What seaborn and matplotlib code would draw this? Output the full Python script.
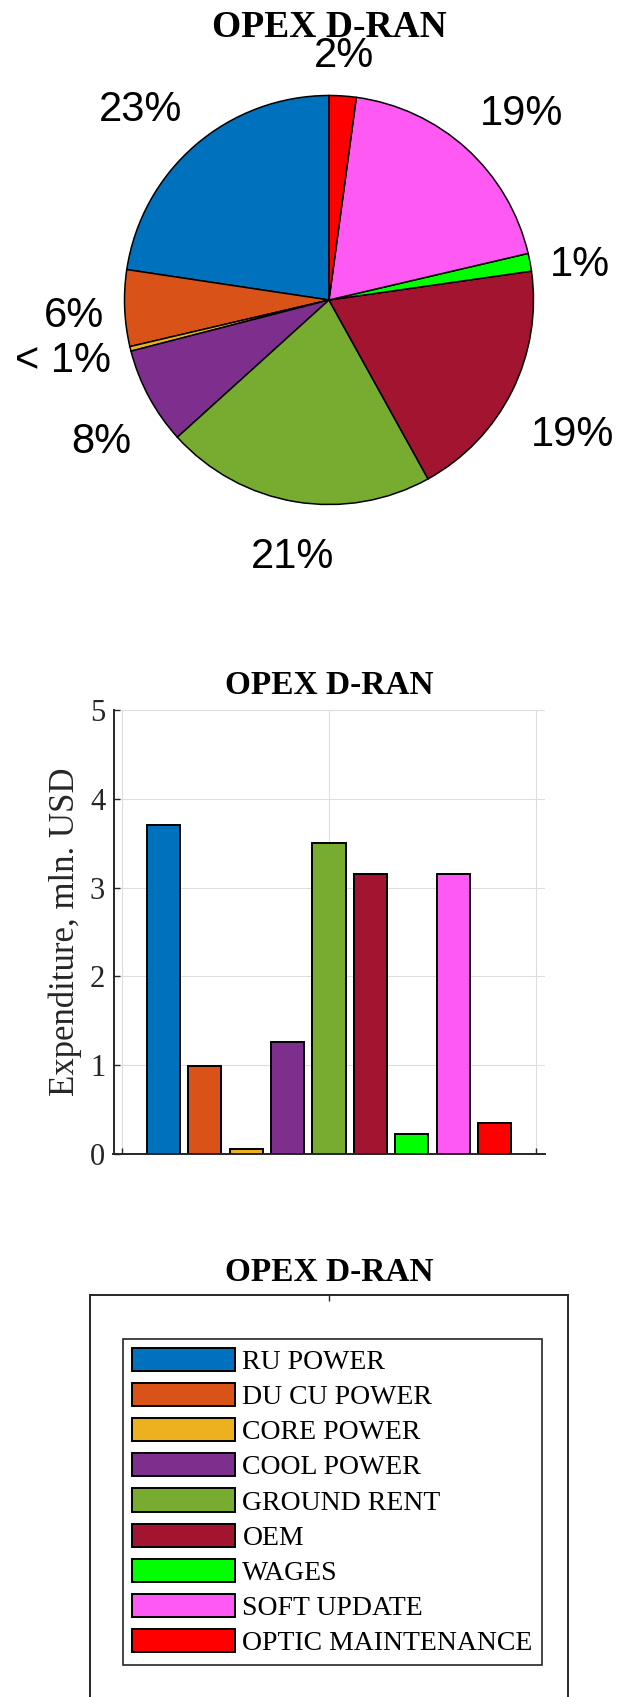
import numpy as np
import pandas as pd
import matplotlib
matplotlib.use("Agg")
import matplotlib.pyplot as plt
import seaborn as sns

# Cost items, yearly expenditure in mln. USD, and their colours
categories = ["RU POWER", "DU CU POWER", "CORE POWER", "COOL POWER",
              "GROUND RENT", "OEM", "WAGES", "SOFT UPDATE", "OPTIC MAINTENANCE"]
expenditure = [3.71, 0.99, 0.06, 1.26, 3.50, 3.15, 0.23, 3.15, 0.35]
colors = ["#0072BD", "#D95319", "#EDB120", "#7E2F8E", "#77AC30",
          "#A2142F", "#00FF00", "#FF59F4", "#FF0000"]
chart_title = "OPEX D-RAN"
y_label = "Expenditure, mln. USD"
y_ticks = [0, 1, 2, 3, 4, 5]
x_grid_ticks = [-1, 4, 9]

sns.set_theme(style="white")
plt.rcParams["font.family"] = ["Liberation Serif", "DejaVu Serif"]
plt.rcParams["axes.edgecolor"] = "#262626"

AXIS_GREY = "#262626"
W, H = 618, 1697
fig = plt.figure(figsize=(W / 100, H / 100), dpi=100)


def px_axes(left, top, right, bottom):
    """Axes placed by pixel edges measured from the top-left corner."""
    return fig.add_axes([left / W, 1 - bottom / H, (right - left) / W, (bottom - top) / H])


def pct_text(v, total):
    p = 100 * v / total
    return "< 1%" if p < 1 else f"{round(p):d}%"


# ---------------- pie ----------------
total = sum(expenditure)
R, cx, cy = 204.5, 329, 300
pie_bottom = 590
ax_pie = px_axes(0, 0, W, pie_bottom)
wedges, texts = ax_pie.pie(
    expenditure,
    labels=[pct_text(v, total) for v in expenditure],
    colors=colors,
    startangle=90,
    counterclock=True,
    labeldistance=1.1,
    wedgeprops=dict(edgecolor="black", linewidth=1.1),
    textprops=dict(fontsize=30, family=["Liberation Sans", "DejaVu Sans"], color="black"),
)
ax_pie.set_aspect("auto")
ax_pie.set_xlim(-cx / R, (W - cx) / R)
ax_pie.set_ylim(-(pie_bottom - cy) / R, cy / R)
ax_pie.axis("off")
for t, w in zip(texts, wedges):
    ang = np.deg2rad((w.theta1 + w.theta2) / 2)
    c, s = np.cos(ang), np.sin(ang)
    t.set_ha("center" if abs(c) < 0.25 else ("left" if c > 0 else "right"))
    if abs(s) < 0.25:
        t.set_va("center")
        drop = 7
    elif s > 0:
        t.set_va("bottom")
        drop = 0
    else:
        t.set_va("top")
        drop = 15
    x, y = t.get_position()
    t.set_position((x, y - drop / R))
    t.set_clip_on(False)

fig.text(cx / W, 1 - 37 / H, chart_title, ha="center", va="baseline",
         fontsize=27, fontweight="bold", color="black")

# ---------------- bars ----------------
ax_bar = px_axes(113.5, 710, 544.5, 1154)
df = pd.DataFrame({"category": categories, "value": expenditure})
sns.barplot(data=df, x="category", y="value", hue="category",
            order=categories, hue_order=categories, palette=colors,
            legend=False, width=0.8, saturation=1,
            edgecolor="black", linewidth=1.4, ax=ax_bar)
ax_bar.set_xlim(-1.2, 9.2)
ax_bar.set_ylim(0, 5)
ax_bar.set_xticks(x_grid_ticks)
ax_bar.set_xticklabels([])
ax_bar.set_yticks(y_ticks)
ax_bar.set_xlabel("")
ax_bar.set_ylabel(y_label, fontsize=25, color=AXIS_GREY, va="center")
ax_bar.yaxis.set_label_coords((65 - 113.5) / 431, 0.5)
ax_bar.grid(True, color="#dedede", linewidth=0.8)
ax_bar.set_axisbelow(True)
for side in ["top", "right"]:
    ax_bar.spines[side].set_visible(False)
for side in ["left", "bottom"]:
    ax_bar.spines[side].set_color(AXIS_GREY)
    ax_bar.spines[side].set_linewidth(1.4)
ax_bar.tick_params(axis="both", direction="in", length=4.3, width=1.0,
                   color=AXIS_GREY, labelsize=22, labelcolor=AXIS_GREY, pad=6,
                   left=True, bottom=True)
ax_bar.set_title(chart_title, fontsize=24, fontweight="bold", pad=11.5, color="black")

# ---------------- legend panel ----------------
ax_leg = px_axes(90, 1294.5, 568, 1715)
ax_leg.set_xlim(0, 1)
ax_leg.set_ylim(0, 1)
ax_leg.set_xticks([0.5])
ax_leg.set_xticklabels([])
ax_leg.set_yticks([])
ax_leg.tick_params(axis="x", direction="in", top=True, bottom=True,
                   length=4.3, width=1.0, color=AXIS_GREY)
for side in ax_leg.spines.values():
    side.set_visible(True)
    side.set_color(AXIS_GREY)
    side.set_linewidth(1.4)
ax_leg.set_title(chart_title, fontsize=24, fontweight="bold", pad=9.7, color="black")

handles = ax_bar.patches[:len(categories)]
leg = ax_leg.legend(handles, categories, loc="center",
                    bbox_to_anchor=(332.5 / W, 1 - 1502 / H),
                    bbox_transform=fig.transFigure,
                    fontsize=20, handlelength=3.7, handleheight=0.9,
                    handletextpad=0.27, labelspacing=0.29, borderpad=0.33,
                    fancybox=False, framealpha=1, frameon=True,
                    edgecolor=AXIS_GREY)
leg.get_frame().set_linewidth(1.2)
for t in leg.get_texts():
    t.set_color("black")

fig.savefig("out.png", dpi=100)
